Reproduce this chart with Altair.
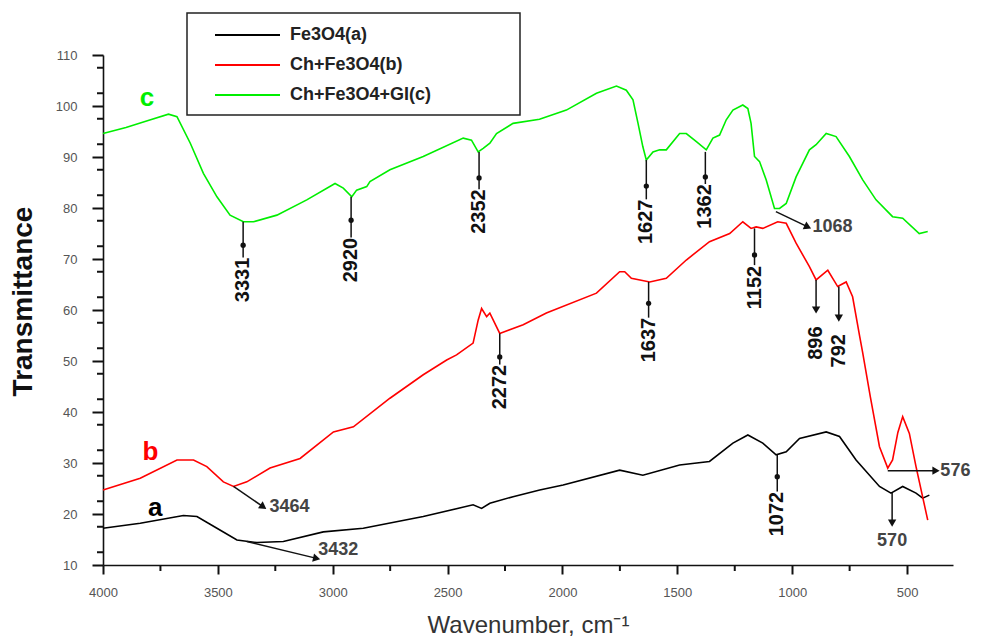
import altair as alt
import pandas as pd

# ---------------- data ----------------
series_names = ["Fe3O4(a)", "Ch+Fe3O4(b)", "Ch+Fe3O4+GI(c)"]
series_colors = ["#000000", "#ff0000", "#00ee00"]
curve_letters = ["a", "b", "c"]

a_wn = [4000, 3838, 3650, 3591, 3504, 3417, 3330, 3215, 3041, 2867, 2606, 2389, 2352, 2316,
        2215, 2099, 1997, 1751, 1650, 1490, 1360, 1258, 1193, 1128, 1070, 1026, 968, 852,
        794, 722, 620, 570, 519, 461, 432, 403]
a_t = [17.2, 18.2, 19.7, 19.5, 17.2, 14.9, 14.4, 14.6, 16.5, 17.2, 19.5, 21.8, 21.1, 22.1,
       23.4, 24.7, 25.7, 28.6, 27.6, 29.6, 30.3, 33.9, 35.5, 33.9, 31.6, 32.2, 34.8, 36.1,
       35.2, 30.6, 25.4, 24.1, 25.4, 24.1, 23.1, 23.7]

b_wn = [4000, 3838, 3678, 3606, 3548, 3476, 3432, 3374, 3273, 3142, 2997, 2910, 2751, 2606,
        2504, 2461, 2389, 2367, 2352, 2330, 2316, 2273, 2171, 2070, 1852, 1751, 1729, 1700,
        1620, 1548, 1461, 1360, 1272, 1215, 1179, 1157, 1128, 1063, 1026, 983, 925, 896,
        845, 802, 765, 737, 706, 693, 660, 620, 584, 563, 540, 519, 490, 461, 410]
b_t = [24.7, 27.0, 30.6, 30.6, 29.3, 26.3, 25.4, 26.3, 29.0, 30.9, 36.1, 37.1, 42.7, 47.3,
       50.2, 51.2, 53.5, 58.0, 60.3, 58.7, 59.4, 55.4, 57.1, 59.4, 63.3, 67.5, 67.5, 66.2,
       65.5, 66.2, 69.8, 73.4, 75.0, 77.3, 76.0, 76.3, 76.0, 77.3, 77.0, 73.1, 68.5, 65.9,
       67.8, 64.6, 65.5, 62.6, 54.8, 51.6, 43.0, 33.2, 29.0, 30.6, 36.0, 39.1, 35.8, 29.3, 18.8]

c_wn = [4000, 3900, 3800, 3715, 3678, 3620, 3563, 3504, 3447, 3389, 3345, 3243, 3113, 2990,
        2954, 2917, 2896, 2852, 2838, 2751, 2606, 2432, 2396, 2367, 2345, 2316, 2287, 2215,
        2100, 1983, 1852, 1765, 1722, 1693, 1671, 1650, 1635, 1606, 1577, 1548, 1490, 1461,
        1417, 1374, 1345, 1316, 1287, 1258, 1215, 1193, 1179, 1164, 1142, 1113, 1077, 1055,
        1026, 983, 925, 896, 852, 809, 751, 693, 635, 563, 519, 447, 410]
c_t = [94.6, 95.8, 97.2, 98.4, 97.9, 92.7, 86.8, 82.2, 78.6, 77.3, 77.3, 78.6, 81.6, 84.8,
       83.9, 82.2, 83.5, 84.2, 85.2, 87.5, 90.1, 93.7, 93.3, 91.0, 91.7, 92.7, 94.6, 96.6,
       97.4, 99.2, 102.5, 103.9, 103.1, 101.2, 96.6, 92.0, 89.4, 91.0, 91.4, 91.4, 94.6, 94.6,
       93.0, 91.4, 93.7, 94.3, 97.3, 99.2, 100.2, 99.5, 96.6, 90.1, 89.1, 85.5, 79.9, 79.9,
       80.9, 86.1, 91.4, 92.4, 94.6, 94.0, 90.1, 85.5, 81.6, 78.3, 78.0, 75.0, 75.4]

# peak markers with a dot, label written vertically
dot_labels = ["3331", "2920", "2352", "1627", "1362", "2272", "1637", "1152", "1072"]
dot_x = [3390, 2920, 2363, 1635, 1378, 2273, 1625, 1164, 1065]
dot_from = [77.3, 82.2, 91.0, 89.4, 91.0, 55.4, 65.5, 76.0, 31.6]
dot_at = [72.7, 77.6, 85.9, 84.3, 86.1, 50.8, 61.3, 70.8, 27.3]
dot_text = [65.9, 69.8, 79.3, 77.3, 80.3, 44.9, 54.1, 64.4, 20.0]

# peak markers with a vertical arrow, label written vertically
varrow_labels = ["896", "792"]
varrow_x = [896, 797]
varrow_from = [65.9, 64.6]
varrow_to = [60.0, 58.4]
varrow_text = [53.5, 52.0]

# peak markers with a slanted / horizontal arrow, horizontal label
harrow_labels = ["1068", "3464", "3432", "576"]
harrow_x1 = [1071, 3432, 3374, 584]
harrow_y1 = [79.3, 25.4, 14.6, 28.5]
harrow_x2 = [932, 3302, 3070, 374]
harrow_y2 = [76.3, 21.4, 11.3, 28.5]
harrow_angle = [25, 34, 13, 0]
harrow_tx = [912, 3275, 3063, 355]
harrow_ty = [76.3, 21.4, 12.9, 28.5]

# 570 : arrow down, horizontal label below
down_label = ["570"]
down_x = [565]
down_from = [24.1]
down_to = [18.2]
down_ty = [14.8]

letter_x = [3773, 3794, 3809]
letter_y = [21.1, 32.2, 101.5]

x_major = list(range(4000, 499, -500))
x_minor = list(range(3750, 600, -500))
y_major = list(range(10, 111, 5))
y_minor = [12.5 + 5 * i for i in range(20)]

FONT = "Liberation Sans"

# ---------------- tables ----------------
rows = []
for name, wn, tt in zip(series_names, [a_wn, b_wn, c_wn], [a_t, b_t, c_t]):
    for w, v in zip(wn, tt):
        rows.append({"series": name, "wn": w, "T": v})
curves = pd.DataFrame(rows)

seg_rows = []
for x, y1, yt in zip(dot_x, dot_from, dot_text):
    seg_rows.append({"x": x, "y": y1, "x2": x, "y2": yt + 4.4})
for x, y1, y2 in zip(varrow_x, varrow_from, varrow_to):
    seg_rows.append({"x": x, "y": y1, "x2": x, "y2": y2})
for x1, y1, x2, y2 in zip(harrow_x1, harrow_y1, harrow_x2, harrow_y2):
    seg_rows.append({"x": x1, "y": y1, "x2": x2, "y2": y2})
for x, y1, y2 in zip(down_x, down_from, down_to):
    seg_rows.append({"x": x, "y": y1, "x2": x, "y2": y2})
segs = pd.DataFrame(seg_rows)

dots = pd.DataFrame({"x": dot_x, "y": dot_at})

heads = pd.DataFrame(
    {"x": varrow_x + harrow_x2 + down_x,
     "y": varrow_to + harrow_y2 + down_to,
     "ang": [90] * len(varrow_x) + harrow_angle + [90] * len(down_x)}
)

vtext = pd.DataFrame({"x": dot_x + varrow_x, "y": dot_text + varrow_text,
                      "label": dot_labels + varrow_labels})
htext = pd.DataFrame({"x": harrow_tx, "y": harrow_ty, "label": harrow_labels})
ctext = pd.DataFrame({"x": down_x, "y": down_ty, "label": down_label})
letters = pd.DataFrame({"x": letter_x, "y": letter_y, "label": curve_letters,
                        "col": series_colors})

# ---------------- scales / axes ----------------
xs = alt.Scale(domain=[4000, 300], nice=False, zero=False)
ys = alt.Scale(domain=[10, 110], nice=False, zero=False)

TICK = "#111"

x_axis = alt.Axis(
    values=x_major, format="d", labelFlush=False,
    tickSize=9, tickColor=TICK, tickWidth=2, domainColor="#111", domainWidth=1.6,
    labelFont=FONT, labelFontSize=13, labelColor="#555", labelPadding=12,
    grid=False,
    title="Wavenumber, cm⁻¹", titleFont=FONT, titleFontSize=24,
    titleFontWeight="normal", titleColor="#333",
    titleX=425, titleY=60, titleBaseline="middle", titleAlign="center",
)
y_axis = alt.Axis(
    values=y_major, format="d", labelFlush=False,
    tickSize=11, tickColor=TICK, tickWidth=2, domainColor="#111", domainWidth=1.6,
    labelFont=FONT, labelFontSize=13, labelColor="#555", labelPadding=15,
    grid=False,
    title="Transmittance", titleFont=FONT, titleFontSize=28, titleFontWeight="bold",
    titleColor="#111", titleAngle=270, titleX=-80, titleY=246,
    titleBaseline="middle", titleAlign="center",
)

lines = alt.Chart(curves).mark_line(strokeWidth=1.6).encode(
    x=alt.X("wn:Q", scale=xs, axis=x_axis),
    y=alt.Y("T:Q", scale=ys, axis=y_axis),
    color=alt.Color("series:N", scale=alt.Scale(domain=series_names, range=series_colors),
                    legend=None),
)

# minor ticks, placed through the scales
xminor_layer = alt.Chart(pd.DataFrame({"v": x_minor})).mark_rule(
    color=TICK, strokeWidth=2).encode(
    x=alt.X("v:Q", scale=xs), y=alt.value(510), y2=alt.value(516))
yminor_layer = alt.Chart(pd.DataFrame({"v": y_minor})).mark_rule(
    color=TICK, strokeWidth=2).encode(
    y=alt.Y("v:Q", scale=ys), x=alt.value(0), x2=alt.value(-6))

seg_layer = alt.Chart(segs).mark_rule(color="#111", strokeWidth=1.5).encode(
    x=alt.X("x:Q", scale=xs), y=alt.Y("y:Q", scale=ys), x2="x2:Q", y2="y2:Q")

dot_layer = alt.Chart(dots).mark_point(filled=True, color="#111", size=28, shape="circle",
                                       opacity=1).encode(
    x=alt.X("x:Q", scale=xs), y=alt.Y("y:Q", scale=ys))

head_layer = alt.Chart(heads).mark_point(filled=True, color="#111", size=70,
                                         shape="triangle-right", opacity=1).encode(
    x=alt.X("x:Q", scale=xs), y=alt.Y("y:Q", scale=ys),
    angle=alt.Angle("ang:Q", scale=None))

vtext_layer = alt.Chart(vtext).mark_text(angle=270, font=FONT, fontSize=20,
                                         fontWeight="bold", color="#111",
                                         align="center", baseline="middle").encode(
    x=alt.X("x:Q", scale=xs), y=alt.Y("y:Q", scale=ys), text="label:N")

htext_layer = alt.Chart(htext).mark_text(font=FONT, fontSize=18, fontWeight="bold",
                                         color="#444", align="left",
                                         baseline="middle").encode(
    x=alt.X("x:Q", scale=xs), y=alt.Y("y:Q", scale=ys), text="label:N")

ctext_layer = alt.Chart(ctext).mark_text(font=FONT, fontSize=18, fontWeight="bold",
                                         color="#444", align="center",
                                         baseline="middle").encode(
    x=alt.X("x:Q", scale=xs), y=alt.Y("y:Q", scale=ys), text="label:N")

letter_layer = alt.Chart(letters).mark_text(font=FONT, fontSize=26, fontWeight="bold",
                                            align="center", baseline="middle").encode(
    x=alt.X("x:Q", scale=xs), y=alt.Y("y:Q", scale=ys), text="label:N",
    color=alt.Color("col:N", scale=None))

# ---------------- legend (drawn in the page's pixel space) ----------------
leg_rows_y = [-20, 10, 40]
legend_layers = [
    alt.Chart(pd.DataFrame({"k": [0]})).mark_rect(fill="white", stroke="#222",
                                                  strokeWidth=1.5).encode(
        x=alt.value(84), x2=alt.value(417), y=alt.value(-42), y2=alt.value(60))
]
for name, col, yy in zip(series_names, series_colors, leg_rows_y):
    legend_layers.append(
        alt.Chart(pd.DataFrame({"k": [0]})).mark_rule(color=col, strokeWidth=2).encode(
            x=alt.value(112), x2=alt.value(177), y=alt.value(yy)))
    legend_layers.append(
        alt.Chart(pd.DataFrame({"k": [0]})).mark_text(
            text=name, font=FONT, fontSize=18, fontWeight="bold", color="#222",
            align="left", baseline="middle").encode(x=alt.value(187), y=alt.value(yy)))

chart = alt.layer(
    lines, xminor_layer, yminor_layer, seg_layer, dot_layer, head_layer, vtext_layer,
    htext_layer, ctext_layer, letter_layer, *legend_layers
).properties(
    width=850, height=510,
    padding={"left": 103, "top": 55, "right": 29, "bottom": 73},
    autosize=alt.AutoSizeParams(type="none"),
).configure_view(stroke=None)

chart.save("out.html", embed_options={"renderer": "svg", "actions": False})
